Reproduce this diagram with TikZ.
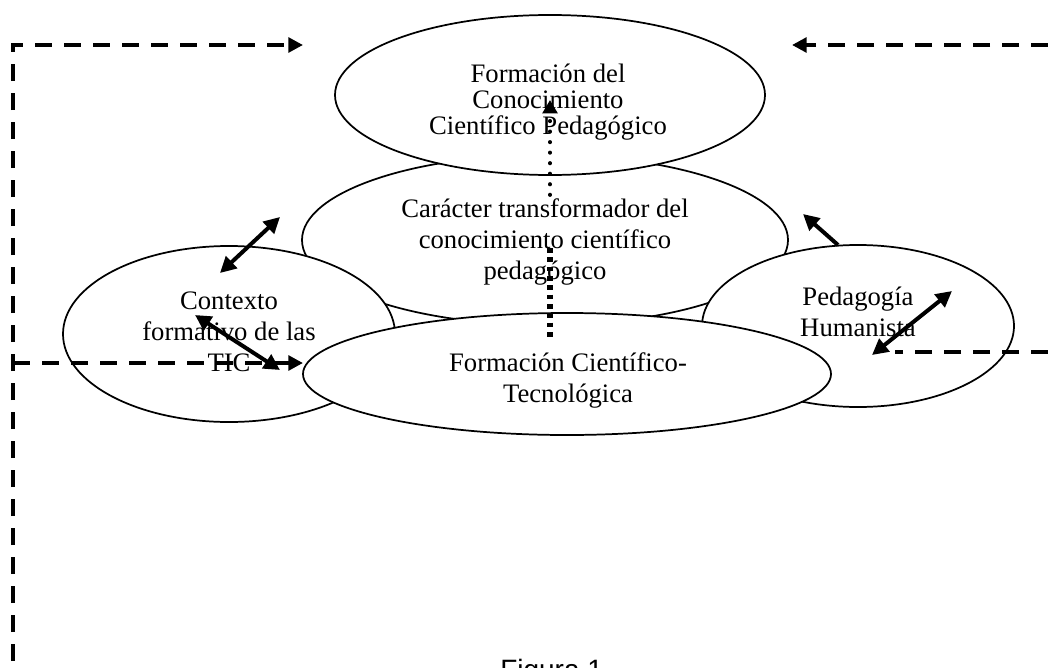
\documentclass[tikz,border=0pt]{standalone}
\usepackage{fontspec}
\setmainfont{Liberation Serif}
\newfontfamily\figfont{Liberation Sans}
\usetikzlibrary{shapes.geometric,arrows.meta}
\begin{document}
\begin{tikzpicture}[x=0.75pt, y=-0.75pt,
    oval/.style={ellipse, draw, line width=1.3pt, fill=white, inner sep=0pt},
    txt/.style={align=center, font=\fontsize{20}{23.25}\selectfont},
    feed/.style={line width=3pt, dash pattern=on 12.75pt off 9pt, -{Triangle[length=11pt,width=11pt]}},
    link/.style={line width=3pt, {Triangle[length=12pt,width=12pt]}-{Triangle[length=12pt,width=12pt]}}]
    \clip (0,0) rectangle (1048,667);
    \node [oval, minimum width=364.5pt, minimum height=127.5pt] (caracter) at (545,240) {};
    \node [oval, minimum width=249pt, minimum height=132pt] (contexto) at (229,334) {};
    \node [oval, minimum width=234pt, minimum height=121.5pt] (humanista) at (858,326) {};
    \node [oval, minimum width=396pt, minimum height=91.5pt] (cientec) at (567,374) {};
    \node [oval, minimum width=322.5pt, minimum height=120pt] (formacion) at (550,95) {};
    \node [txt, font=\fontsize{20}{19.5}\selectfont] (t1) at (548,102) {Formación del\\Conocimiento\\Científico Pedagógico};
    \node [txt] (t2) at (545,242) {Carácter transformador del\\conocimiento científico\\pedagógico};
    \node [txt] (t3) at (229,332) {Contexto\\formativo de las\\TIC};
    \node [txt] (t4) at (858,312) {Pedagogía\\Humanista};
    \node [txt] (t5) at (568,380) {Formación Científico-\\Tecnológica};
    \node [font=\figfont\fontsize{21}{25}\selectfont, anchor=base west, inner sep=0pt] (fig) at (500,679) {Figura 1};
    \coordinate (ll) at (13,690);
    \coordinate (ml) at (13,363);
    \coordinate (tl) at (303,45);
    \coordinate (tr) at (792,45);
    \coordinate (er) at (1048,45);
    \coordinate (mr) at (1048,352);
    \coordinate (hm) at (895,352);
    \coordinate (cx) at (303,363);
    \coordinate (a1) at (220,273);
    \coordinate (a2) at (280,217);
    \coordinate (b1) at (195,315);
    \coordinate (b2) at (280,370);
    \coordinate (c1) at (838,245);
    \coordinate (c2) at (803,214);
    \coordinate (d1) at (872,355);
    \coordinate (d2) at (952,291);
    \coordinate (u1) at (550,195);
    \coordinate (u2) at (550,100);
    \coordinate (s1) at (550,248);
    \coordinate (s2) at (550,340);
    \draw [feed] (ll) |- (tl);
    \draw [feed] (ml) -- (cx);
    \draw [feed] (er) -- (tr);
    \draw [line width=3pt, dash pattern=on 12.75pt off 9pt] (mr) -- (hm);
    \draw [link] (a1) -- (a2);
    \draw [link] (b1) -- (b2);
    \draw [link] (d1) -- (d2);
    \draw [line width=3pt, -{Triangle[length=12pt,width=12pt]}] (c1) -- (c2);
    \draw [line width=2.8pt, line cap=round, dash pattern=on 0.3pt off 7.6pt, -{Triangle[length=10pt,width=11pt]}] (u1) -- (u2);
    \draw [line width=4pt, dash pattern=on 3.6pt off 3.4pt] (s1) -- (s2);
\end{tikzpicture}
\end{document}
